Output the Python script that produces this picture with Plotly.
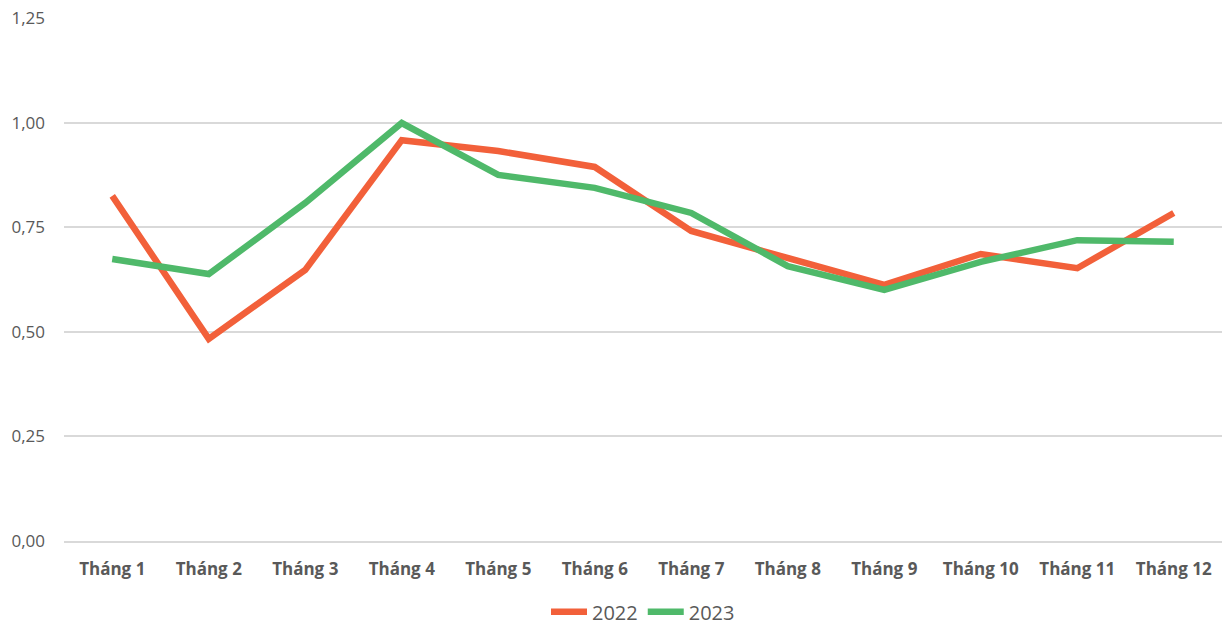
import plotly.graph_objects as go

months = ["Tháng 1", "Tháng 2", "Tháng 3", "Tháng 4", "Tháng 5", "Tháng 6",
          "Tháng 7", "Tháng 8", "Tháng 9", "Tháng 10", "Tháng 11", "Tháng 12"]
values_2022 = [0.825, 0.483, 0.648, 0.958, 0.932, 0.894, 0.741, 0.676, 0.612, 0.686, 0.652, 0.784]
values_2023 = [0.674, 0.638, 0.808, 0.999, 0.875, 0.844, 0.784, 0.657, 0.600, 0.667, 0.719, 0.715]
y_ticks = [0, 0.25, 0.5, 0.75, 1.0, 1.25]
y_tick_labels = ["0,00", "0,25", "0,50", "0,75", "1,00", "1,25"]

FONT = "'Open Sans', Inter, sans-serif"

fig = go.Figure()
fig.add_trace(go.Scatter(x=months, y=values_2022, name="2022", mode="lines",
                         line=dict(color="#F2603A", width=6.5)))
fig.add_trace(go.Scatter(x=months, y=values_2023, name="2023", mode="lines",
                         line=dict(color="#4FB96A", width=6.5)))

fig.update_layout(
    width=1223, height=627,
    margin=dict(l=64, r=1, t=18, b=86, autoexpand=False),
    paper_bgcolor="white", plot_bgcolor="white",
    font=dict(family=FONT, color="#595959"),
    showlegend=True,
    legend=dict(orientation="h", x=0.5, xanchor="center", y=-0.098, yanchor="top",
                font=dict(size=20, color="#595959"), itemwidth=36, tracegroupgap=0),
    xaxis=dict(showgrid=False, showline=True, linecolor="#D9D9D9", linewidth=2,
               range=[-0.5, 11.5], ticks="", ticklabelstandoff=12,
               tickfont=dict(size=17, color="#595959", family=FONT, weight="bold")),
    yaxis=dict(range=[0, 1.25], tickvals=y_ticks, ticktext=y_tick_labels,
               showgrid=True, gridcolor="#D9D9D9", gridwidth=1.5, zeroline=False,
               tickfont=dict(size=17, color="#595959"), ticklabelstandoff=18),
)

fig.write_html("out.html", config={"displayModeBar": False},
               post_script="document.body.style.margin='0';document.body.style.overflow='hidden';")
